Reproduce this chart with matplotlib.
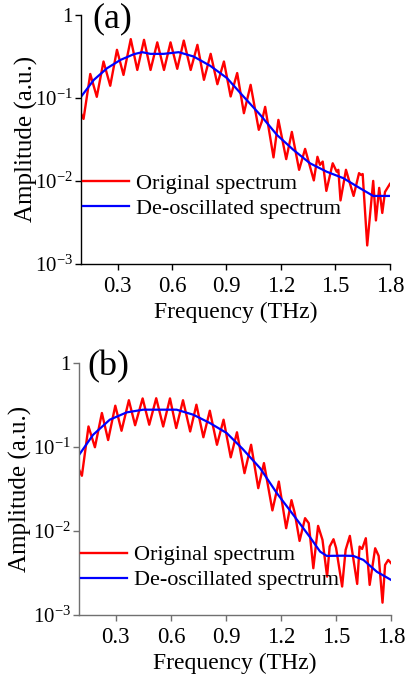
import matplotlib
matplotlib.use("Agg")
import matplotlib.pyplot as plt
import numpy as np

plt.rcParams["font.family"] = ["Liberation Serif", "DejaVu Serif"]
plt.rcParams["mathtext.fontset"] = "custom"
plt.rcParams["mathtext.rm"] = "Liberation Serif"
plt.rcParams["mathtext.it"] = "Liberation Serif:italic"
plt.rcParams["mathtext.default"] = "regular"

# panel (a): original spectrum (peaks/troughs)
freq_a = [0.100, 0.113, 0.150, 0.186, 0.223, 0.260, 0.297, 0.333, 0.373, 0.409,
          0.446, 0.482, 0.519, 0.556, 0.592, 0.629, 0.665, 0.703, 0.740, 0.776,
          0.813, 0.850, 0.886, 0.923, 0.959, 0.996, 1.033, 1.078, 1.094, 1.113,
          1.159, 1.186, 1.229, 1.260, 1.300, 1.333, 1.381, 1.401, 1.415, 1.430,
          1.450, 1.485, 1.507, 1.516, 1.528, 1.558, 1.600, 1.630, 1.641, 1.650,
          1.675, 1.708, 1.723, 1.741, 1.758, 1.773, 1.800]
orig_a = [0.064, 0.0558, 0.194, 0.103, 0.274, 0.140, 0.379, 0.189, 0.510, 0.217,
          0.500, 0.217, 0.466, 0.217, 0.466, 0.224, 0.490, 0.217, 0.435, 0.165,
          0.339, 0.146, 0.274, 0.104, 0.199, 0.0654, 0.1435, 0.0412, 0.0514, 0.0779,
          0.0192, 0.0543, 0.0183, 0.0389, 0.0136, 0.0243, 0.01014, 0.0195, 0.0156, 0.0171,
          0.00758, 0.0163, 0.0129, 0.0136, 0.00582, 0.0136, 0.00659, 0.0124, 0.0118, 0.0121,
          0.00167, 0.0100, 0.00334, 0.00824, 0.00411, 0.00737, 0.0092]
# panel (a): de-oscillated spectrum
sfreq_a = [0.100, 0.170, 0.243, 0.317, 0.390, 0.436, 0.481, 0.554, 0.637, 0.719,
           0.811, 0.903, 0.994, 1.086, 1.178, 1.269, 1.360, 1.452, 1.543, 1.635,
           1.708, 1.800]
smooth_a = [0.1037, 0.165, 0.228, 0.287, 0.336, 0.355, 0.339, 0.339, 0.355, 0.315,
            0.243, 0.173, 0.1037, 0.0624, 0.0358, 0.0236, 0.0163, 0.0129, 0.0108, 0.00817,
            0.00659, 0.00659]

# panel (b)
freq_b = [0.100, 0.115, 0.151, 0.186, 0.224, 0.258, 0.297, 0.331, 0.371, 0.405,
          0.446, 0.482, 0.520, 0.558, 0.595, 0.629, 0.666, 0.705, 0.739, 0.777,
          0.812, 0.851, 0.887, 0.926, 0.960, 1.001, 1.037, 1.076, 1.107, 1.153,
          1.188, 1.228, 1.257, 1.275, 1.301, 1.331, 1.351, 1.376, 1.402, 1.426,
          1.451, 1.465, 1.486, 1.500, 1.533, 1.552, 1.575, 1.615, 1.628, 1.642,
          1.662, 1.683, 1.713, 1.732, 1.753, 1.767, 1.784, 1.800]
orig_b = [0.0536, 0.0455, 0.176, 0.0995, 0.2546, 0.1213, 0.311, 0.1565, 0.3615, 0.182,
          0.380, 0.1845, 0.382, 0.176, 0.380, 0.1686, 0.3615, 0.1535, 0.3197, 0.131,
          0.271, 0.1065, 0.2118, 0.0755, 0.150, 0.0489, 0.1065, 0.0324, 0.0644, 0.0176,
          0.0388, 0.0108, 0.0233, 0.0163, 0.00762, 0.01422, 0.01239, 0.0036, 0.0115, 0.00783,
          0.00286, 0.00652, 0.00798, 0.00628, 0.00218, 0.00595, 0.00874, 0.00234, 0.00652, 0.00611,
          0.0082, 0.00228, 0.00623, 0.00505, 0.0014, 0.00394, 0.00452, 0.00413]
sfreq_b = [0.100, 0.176, 0.267, 0.359, 0.449, 0.540, 0.631, 0.722, 0.813, 0.904,
           0.990, 1.086, 1.177, 1.267, 1.358, 1.413, 1.449, 1.540, 1.594, 1.649,
           1.722, 1.800]
smooth_b = [0.0809, 0.140, 0.212, 0.259, 0.279, 0.279, 0.279, 0.243, 0.193, 0.147,
            0.0955, 0.0561, 0.0283, 0.01556, 0.00843, 0.00568, 0.00505, 0.00508, 0.00505, 0.00452,
            0.00327, 0.00261]

xticks = [0.3, 0.6, 0.9, 1.2, 1.5, 1.8]
yticks = [1e-3, 1e-2, 1e-1, 1]
ylabels = ["$10^{-3}$", "$10^{-2}$", "$10^{-1}$", "1"]

fig = plt.figure(figsize=(4.1, 6.75), dpi=100)
ax1 = fig.add_axes([0.198, 0.609, 0.753, 0.369])
ax2 = fig.add_axes([0.193, 0.089, 0.761, 0.373])

panels = [
    (ax1, freq_a, orig_a, sfreq_a, smooth_a, "(a)", "black", (0.036, 0.984), 0.273, -0.139),
    (ax2, freq_b, orig_b, sfreq_b, smooth_b, "(b)", "#707070", (0.025, 0.986), 0.188, -0.150),
]
for ax, f, o, sf, s, tag, sc, tpos, legy, ylx in panels:
    ax.plot(f, o, color="#ff0000", lw=1.7, solid_joinstyle="round", label="Original spectrum")
    ax.plot(sf, s, color="#0000ff", lw=1.6, label="De-oscillated spectrum")
    ax.set_yscale("log")
    ax.set_xlim(0.1, 1.8)
    ax.set_ylim(1e-3, 1)
    ax.set_xticks(xticks)
    ax.set_xticklabels([str(t) for t in xticks])
    ax.set_yticks(yticks)
    ax.set_yticklabels(ylabels)
    ax.minorticks_off()
    ax.tick_params(axis="both", direction="out", length=4, width=1, colors=sc,
                   labelcolor="black")
    ax.tick_params(axis="x", pad=5, labelsize=16.5)
    ax.tick_params(axis="y", pad=2, labelsize=15)
    for side in ["top", "right"]:
        ax.spines[side].set_visible(False)
    for side in ["left", "bottom"]:
        ax.spines[side].set_color(sc)
        ax.spines[side].set_linewidth(1)
    ax.set_xlabel("Frequency (THz)", fontsize=17, labelpad=3)
    ax.set_ylabel("Amplitude (a.u.)", fontsize=18)
    ax.yaxis.set_label_coords(ylx, 0.5)
    ax.text(tpos[0], tpos[1], tag, transform=ax.transAxes, fontsize=26,
            ha="left", va="center")
    ax.legend(loc="center left", bbox_to_anchor=(0.005, legy), frameon=False,
              fontsize=16, handlelength=2.1, handletextpad=0.3, labelspacing=0.2,
              borderpad=0, borderaxespad=0)

fig.savefig("out.png", dpi=100)
